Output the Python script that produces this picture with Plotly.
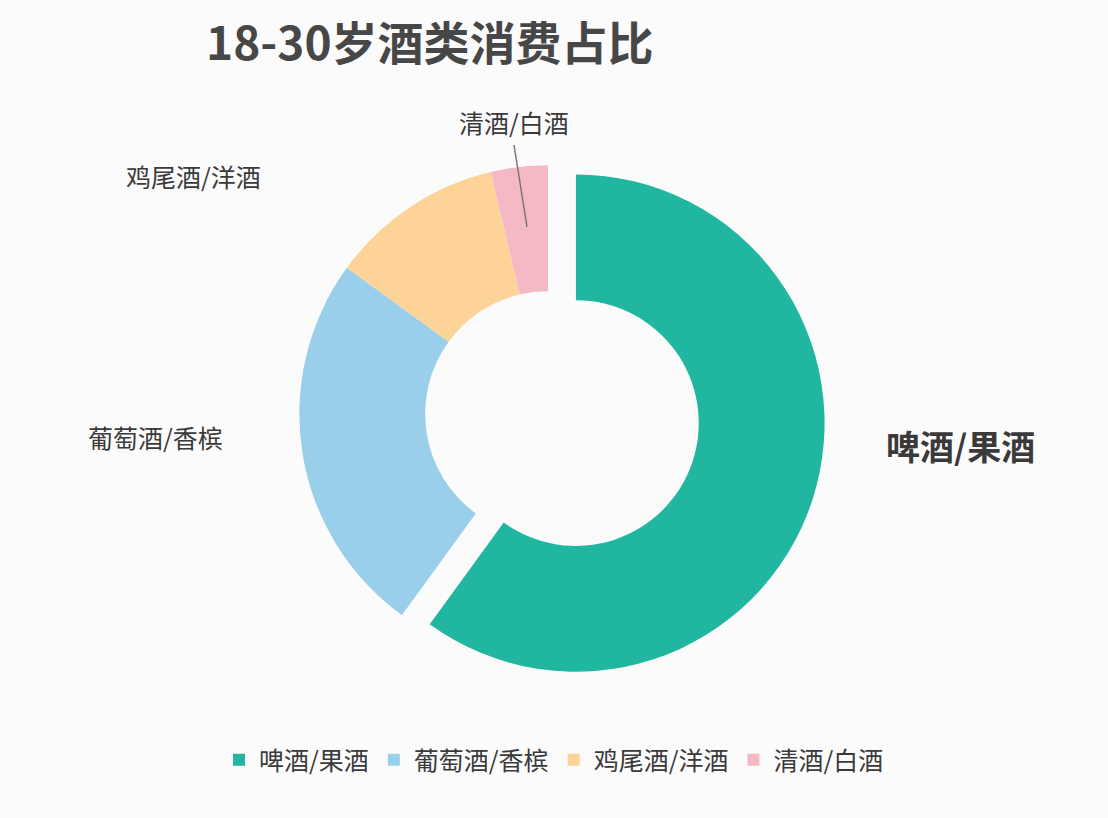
import plotly.graph_objects as go

W, H = 1108, 818

categories = ["啤酒/果酒", "葡萄酒/香槟", "鸡尾酒/洋酒", "清酒/白酒"]
shares = [60.0, 25.0, 11.3, 3.7]
colors = ["#20B6A0", "#9ACFEC", "#FED398", "#F5B9C5"]
pulls = [0.118, 0, 0, 0]

title_text = "18-30岁酒类消费占比"
font_family = "Noto Sans CJK SC"
text_color = "#3a3a3a"


def px(x, y):
    # pixel position -> paper coordinates
    return x / W, 1 - y / H


fig = go.Figure(go.Pie(
    labels=categories,
    values=shares,
    marker=dict(colors=colors, line=dict(width=0)),
    pull=pulls,
    hole=0.494,
    sort=False,
    direction="clockwise",
    rotation=0,
    textinfo="none",
    domain=dict(x=[270 / W, 826 / W], y=[1 - 692 / H, 1 - 136 / H]),
))

# outside labels placed like the original
label_pos = {
    "啤酒/果酒": (960, 445, 34, True),
    "葡萄酒/香槟": (155, 437, 25, False),
    "鸡尾酒/洋酒": (193, 176, 25, False),
    "清酒/白酒": (514, 122, 25, False),
}
annotations = []
for name in categories:
    x, y, size, bold = label_pos[name]
    ax, ay = px(x, y)
    annotations.append(dict(
        x=ax, y=ay, xref="paper", yref="paper",
        xanchor="center", yanchor="middle",
        text=f"<b>{name}</b>" if bold else name,
        showarrow=False,
        font=dict(size=size, color=text_color, family=font_family),
    ))

tx, ty = px(430, 40)
annotations.append(dict(
    x=tx, y=ty, xref="paper", yref="paper",
    xanchor="center", yanchor="middle",
    text=f"<b>{title_text}</b>", showarrow=False,
    font=dict(size=46, color="#474747", family=font_family),
))

x0, y0 = px(514, 145)
x1, y1 = px(527, 227)

fig.update_layout(
    width=W,
    height=H,
    margin=dict(l=0, r=0, t=0, b=0),
    paper_bgcolor="#FCFBFC",
    plot_bgcolor="#FCFBFC",
    font=dict(family=font_family, color=text_color),
    annotations=annotations,
    shapes=[dict(type="line", xref="paper", yref="paper",
                 x0=x0, y0=y0, x1=x1, y1=y1,
                 line=dict(color="#777777", width=1.5))],
    showlegend=True,
    legend=dict(
        orientation="h",
        x=0.5, xanchor="center",
        y=1 - 760 / H, yanchor="middle",
        font=dict(size=25, color=text_color, family=font_family),
        bgcolor="rgba(0,0,0,0)",
    ),
)

fig.write_html("out.html", config={"displayModeBar": False},
               post_script="document.body.style.margin='0';")
